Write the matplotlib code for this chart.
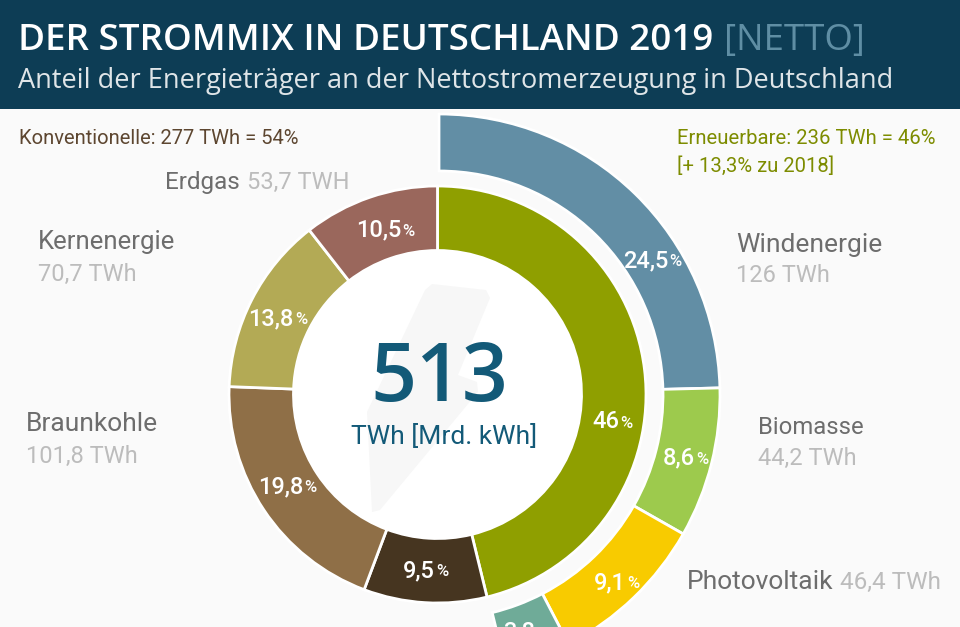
import matplotlib
matplotlib.use('Agg')
from matplotlib import pyplot as plt
from matplotlib.patches import Rectangle, Circle, Polygon

# outer ring: renewables, inner ring: renewables total + conventional
outer_names = ['Windenergie', 'Biomasse', 'Photovoltaik', 'Wasserkraft']
outer_values = [24.5, 8.6, 9.1, 3.8]
outer_colors = ['#628ea5', '#9dca4d', '#f8cb00', '#6fab98']

inner_names = ['Erneuerbare', 'Steinkohle', 'Braunkohle', 'Kernenergie', 'Erdgas']
inner_values = [46, 9.5, 19.8, 13.8, 10.5]
inner_colors = ['#8f9f00', '#463520', '#8f6f47', '#b3aa55', '#9a675c']

NARROW = ['Roboto', 'DejaVu Sans']
WIDE = ['Open Sans', 'DejaVu Sans']

fig = plt.figure(figsize=(9.6, 6.27), dpi=100, facecolor='#fafafa')
ax = fig.add_axes([0, 0, 1, 1])

cx, cy = 437.5, 394.5

# wedges, y axis is flipped so counterclock comes out clockwise
# outer ring shares the inner ring's total so the 46% ends line up
ax.pie([v / sum(inner_values) for v in outer_values], colors=outer_colors, normalize=False,
       center=(439, 395), radius=281, startangle=-90, counterclock=True, frame=True,
       wedgeprops={'width': 57, 'edgecolor': 'white', 'linewidth': 2})
ax.pie(inner_values, colors=inner_colors, center=(cx, cy), radius=208.5,
       startangle=-90, counterclock=True, frame=True,
       wedgeprops={'width': 64.5, 'edgecolor': 'white', 'linewidth': 2})

ax.add_patch(Circle((cx, cy), 144, fc='white', ec='none'))
ax.add_patch(Polygon([(432, 284), (486, 290), (490, 298), (458, 375), (477, 382),
                      (478, 392), (380, 510), (372, 512), (367, 412), (425, 290)],
                     closed=True, fc='#f7f7f7', ec='none'))

# header
ax.add_patch(Rectangle((0, 0), 960, 108.5, fc='#0d3d55', ec='none', zorder=5))
ax.text(18, 50, 'DER STROMMIX IN DEUTSCHLAND 2019', color='white', fontsize=26.5,
        fontweight='semibold', family=WIDE, va='baseline', zorder=6)
ax.text(724, 50, '[NETTO]', color='#5f8ea4', fontsize=26.4, family=WIDE, va='baseline', zorder=6)
ax.text(18, 88, 'Anteil der Energieträger an der Nettostromerzeugung in Deutschland',
        color='#dfe5e8', fontsize=19.5, family=WIDE, va='baseline', zorder=6)

# group notes
ax.text(19, 144, 'Konventionelle: 277 TWh = 54%', color='#5d4630', fontsize=14.5, family=NARROW, va='baseline')
ax.text(677, 144, 'Erneuerbare: 236 TWh = 46%', color='#7d8c00', fontsize=14.6, family=NARROW, va='baseline')
ax.text(677, 172, '[+ 13,3% zu 2018]', color='#7d8c00', fontsize=14.6, family=NARROW, va='baseline')

GREY, LIGHT = '#6d6d6d', '#bcbcbc'
NAME = {'family': NARROW, 'va': 'center'}

ax.text(165, 182, 'Erdgas', color=GREY, fontsize=17.5, **NAME)
ax.text(247, 182, '53,7 TWH', color=LIGHT, fontsize=17, **NAME)
ax.text(38, 242, 'Kernenergie', color=GREY, fontsize=18.5, **NAME)
ax.text(38, 274, '70,7 TWh', color=LIGHT, fontsize=17, **NAME)
ax.text(26, 424, 'Braunkohle', color=GREY, fontsize=19, **NAME)
ax.text(26, 456, '101,8 TWh', color=LIGHT, fontsize=17, **NAME)
ax.text(736, 245, 'Windenergie', color=GREY, fontsize=19, **NAME)
ax.text(736, 276, '126 TWh', color=LIGHT, fontsize=17, **NAME)
ax.text(758, 427, 'Biomasse', color=GREY, fontsize=17.2, **NAME)
ax.text(758, 458, '44,2 TWh', color=LIGHT, fontsize=17, **NAME)
ax.text(687, 582, 'Photovoltaik', color=GREY, fontsize=19, **NAME)
ax.text(840, 582, '46,4 TWh', color=LIGHT, fontsize=17.5, **NAME)


def pct(x, y, num, sign=True):
    # number right aligned on x, smaller percent sign left aligned
    ax.text(x, y, num, color='white', fontsize=17, fontweight='medium', family=NARROW,
            ha='right', va='center')
    if sign:
        ax.text(x + 1, y + 1, '%', color='white', fontsize=12, fontweight='medium',
                family=NARROW, ha='left', va='center')


pct(668, 261, '24,5')
pct(619, 422, '46')
pct(695, 458, '8,6')
pct(626, 583, '9,1')
pct(535, 632, '3,8', sign=False)
pct(401, 230, '10,5')
pct(294, 319, '13,8')
pct(303, 487, '19,8')
pct(435, 571, '9,5')

# centre
ax.text(cx + 2, 380, '513', color='#135a78', fontsize=58, family=WIDE, fontweight='semibold',
        ha='center', va='center')
ax.text(cx + 7, 437, 'TWh [Mrd. kWh]', color='#135a78', fontsize=19, family=NARROW,
        ha='center', va='center')

ax.set_xlim(0, 960)
ax.set_ylim(627, 0)
ax.axis('off')
fig.savefig('out.png', dpi=100, facecolor=fig.get_facecolor())
